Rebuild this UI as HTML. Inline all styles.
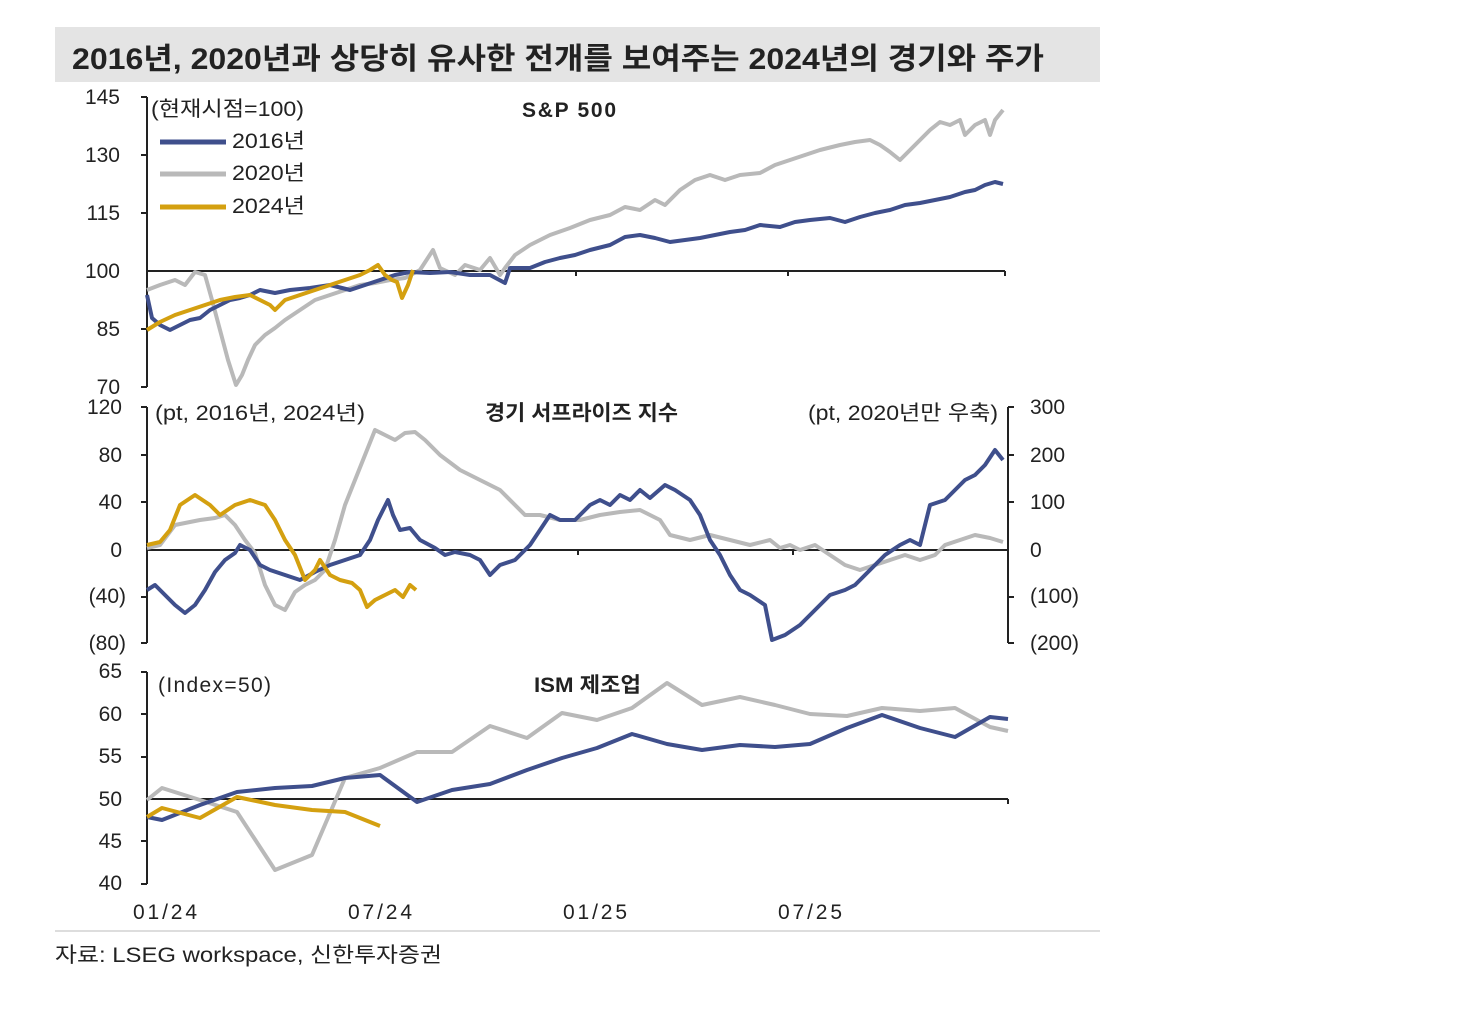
<!DOCTYPE html>
<html><head><meta charset="utf-8"><style>
body{margin:0;background:#fff;}
svg{display:block;font-family:"Liberation Sans","Noto Sans CJK KR",sans-serif;}
</style></head><body>
<svg width="1476" height="1024" viewBox="0 0 1476 1024">
<rect x="55" y="27" width="1045" height="55" fill="#e4e4e4"/>
<text x="72" y="69" font-size="30" font-weight="bold" fill="#222" textLength="972" lengthAdjust="spacingAndGlyphs">2016년, 2020년과 상당히 유사한 전개를 보여주는 2024년의 경기와 주가</text>
<g font-size="21" fill="#222" text-anchor="end">
<text x="120" y="104">145</text><text x="120" y="162">130</text><text x="120" y="220">115</text><text x="120" y="278">100</text><text x="120" y="336">85</text><text x="120" y="394">70</text>
<text x="122" y="414">120</text><text x="122" y="462">80</text><text x="122" y="509">40</text><text x="122" y="557">0</text><text x="126" y="603">(40)</text><text x="126" y="650">(80)</text>
<text x="122" y="678">65</text><text x="122" y="721">60</text><text x="122" y="763">55</text><text x="122" y="806">50</text><text x="122" y="848">45</text><text x="122" y="890">40</text>
</g>
<g font-size="21" fill="#222">
<text x="1030" y="414">300</text><text x="1030" y="462">200</text><text x="1030" y="509">100</text><text x="1030" y="557">0</text><text x="1030" y="603">(100)</text><text x="1030" y="650">(200)</text>
</g>
<g font-size="21" fill="#222">
<text x="133" y="919" textLength="64">01/24</text><text x="348" y="919" textLength="64">07/24</text><text x="563" y="919" textLength="64">01/25</text><text x="778" y="919" textLength="64">07/25</text>
<text x="151" y="116" textLength="153" lengthAdjust="spacingAndGlyphs">(현재시점=100)</text>
<text x="232" y="148" textLength="73" lengthAdjust="spacingAndGlyphs">2016년</text><text x="232" y="180" textLength="73" lengthAdjust="spacingAndGlyphs">2020년</text><text x="232" y="213" textLength="73" lengthAdjust="spacingAndGlyphs">2024년</text>
<text x="522" y="117" font-weight="bold" textLength="94">S&amp;P 500</text>
<text x="155" y="420" textLength="210" lengthAdjust="spacingAndGlyphs">(pt, 2016년, 2024년)</text>
<text x="485" y="420" font-weight="bold" textLength="193" lengthAdjust="spacingAndGlyphs">경기 서프라이즈 지수</text>
<text x="808" y="420" textLength="190" lengthAdjust="spacingAndGlyphs">(pt, 2020년만 우축)</text>
<text x="158" y="692" textLength="113">(Index=50)</text>
<text x="534" y="692" font-weight="bold" textLength="107" lengthAdjust="spacingAndGlyphs">ISM 제조업</text>
<text x="55" y="962" textLength="387" lengthAdjust="spacingAndGlyphs">자료: LSEG workspace, 신한투자증권</text>
</g>
<line x1="160" y1="142" x2="226" y2="142" stroke="#3f4f8c" stroke-width="5"/>
<line x1="160" y1="174" x2="226" y2="174" stroke="#b9b9b9" stroke-width="5"/>
<line x1="160" y1="207" x2="226" y2="207" stroke="#d4a010" stroke-width="5"/>
<g stroke="#222" stroke-width="2" fill="none">
<line x1="147" y1="97" x2="147" y2="387"/><line x1="147" y1="271" x2="1005" y2="271"/>
<line x1="147" y1="407" x2="147" y2="643"/><line x1="147" y1="550" x2="1008" y2="550"/><line x1="1008" y1="407" x2="1008" y2="643"/>
<line x1="147" y1="672" x2="147" y2="884"/><line x1="147" y1="799" x2="1008" y2="799"/>
<path d="M141 97h6M141 155h6M141 213h6M141 329h6M141 387h6M141 407h6M141 455h6M141 502h6M141 597h6M141 643h6M1008 407h6M1008 455h6M1008 502h6M1008 597h6M1008 643h6M141 672h6M141 714h6M141 757h6M141 841h6M141 884h6"/>
<path d="M576 271v5M788 271v5M1005 271v5M360 550v5M578 550v5M793 550v5M1008 799v5"/>
</g>
<line x1="55" y1="931" x2="1100" y2="931" stroke="#bbb" stroke-width="1"/>
<g fill="none" stroke-width="4" stroke-linejoin="round">
<polyline stroke="#b9b9b9" points="147,290 160,285 175,280 185,285 195,272 205,275 212,300 220,330 228,360 236,385 242,375 248,360 255,345 265,335 275,328 285,320 300,310 315,300 330,295 345,290 360,285 375,283 390,280 405,278 420,270 433,250 440,268 455,275 465,265 480,270 490,258 500,275 505,268 515,255 530,245 550,235 570,228 590,220 610,215 625,207 640,210 655,200 665,205 680,190 695,180 710,175 725,180 740,175 760,173 775,165 790,160 805,155 820,150 840,145 855,142 870,140 880,145 890,152 900,160 910,150 920,140 930,130 940,122 950,125 960,120 965,135 975,125 985,120 990,135 995,120 1003,110"/>
<polyline stroke="#3f4f8c" points="147,295 152,318 160,325 170,330 180,325 190,320 200,318 210,310 220,305 230,300 240,298 250,295 260,290 275,293 290,290 310,288 330,285 350,290 365,285 380,280 395,275 410,272 430,273 450,272 470,275 490,275 505,283 510,268 530,268 545,262 560,258 575,255 590,250 610,245 625,237 640,235 655,238 670,242 685,240 700,238 715,235 730,232 745,230 760,225 780,227 795,222 810,220 830,218 845,222 860,217 875,213 890,210 905,205 920,203 935,200 950,197 965,192 975,190 985,185 995,182 1003,184"/>
<polyline stroke="#d4a010" points="147,330 160,322 175,315 190,310 205,305 220,300 235,297 250,295 260,300 270,305 275,310 285,300 300,295 315,290 330,285 345,280 360,275 370,270 378,265 385,275 392,280 397,282 402,298 408,285 413,270"/>
<polyline stroke="#b9b9b9" points="147,548 160,545 175,525 190,522 200,520 215,518 225,515 235,525 245,540 255,553 265,585 275,605 285,610 295,592 305,585 315,580 325,570 335,540 345,505 355,480 365,455 375,430 385,435 395,440 405,433 415,432 425,440 440,455 460,470 480,480 500,490 515,505 525,515 540,515 560,520 580,520 600,515 620,512 640,510 660,520 670,535 690,540 710,535 730,540 750,545 770,540 780,548 790,545 800,550 815,545 830,555 845,565 860,570 875,565 890,560 905,555 920,560 935,555 945,545 960,540 975,535 990,538 1003,542"/>
<polyline stroke="#3f4f8c" points="147,590 155,585 165,595 175,605 185,613 195,605 205,590 215,572 225,560 235,553 240,545 250,550 260,565 270,570 285,575 300,580 315,572 330,565 345,560 360,555 370,540 378,520 388,500 393,515 400,530 410,528 420,540 435,548 445,555 455,552 470,555 480,560 490,575 500,565 515,560 530,545 540,530 550,515 560,520 575,520 590,505 600,500 610,505 620,495 630,500 640,490 650,498 665,485 675,490 690,500 700,515 710,540 720,555 730,575 740,590 750,595 765,605 772,640 785,635 800,625 815,610 830,595 845,590 855,585 865,575 875,565 885,555 900,545 910,540 920,545 930,505 945,500 955,490 965,480 975,475 985,465 995,450 1003,460"/>
<polyline stroke="#d4a010" points="147,545 160,542 170,530 180,505 195,495 210,505 220,515 235,505 250,500 265,505 275,520 285,540 295,555 305,580 315,570 320,560 330,575 340,580 352,583 360,590 367,607 375,600 385,595 395,590 403,597 410,585 416,590"/>
<polyline stroke="#b9b9b9" points="147,800 162,788 200,800 237,812 275,870 312,855 345,778 380,768 417,752 452,752 490,726 527,738 562,713 597,720 632,708 667,683 702,705 740,697 775,705 810,714 847,716 882,708 920,711 955,708 990,727 1008,731"/>
<polyline stroke="#3f4f8c" points="147,817 162,820 200,805 237,792 275,788 312,786 345,778 380,775 417,802 452,790 490,784 527,770 562,758 597,748 632,734 667,744 702,750 740,745 775,747 810,744 847,728 882,715 920,728 955,737 990,717 1008,719"/>
<polyline stroke="#d4a010" points="147,817 162,808 200,818 237,797 275,805 312,810 345,812 380,826"/>
</g>
</svg>
</body></html>
